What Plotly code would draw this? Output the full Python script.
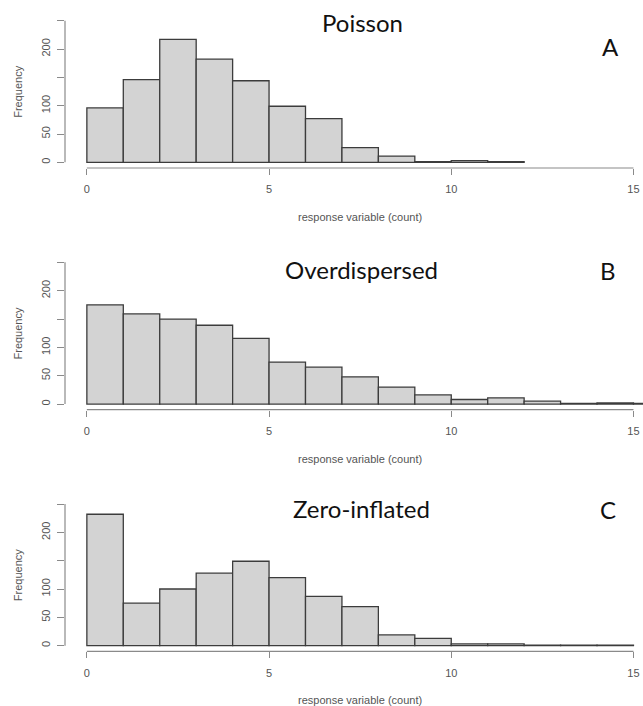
import plotly.graph_objects as go

# Histogram bin edges (unit-width bins on the count scale)
bin_edges = list(range(0, 17))

# Frequencies per bin for the three simulated response variables
poisson_counts = [96, 146, 217, 182, 144, 99, 77, 26, 11, 1, 3, 1]
overdispersed_counts = [175, 159, 150, 139, 116, 74, 65, 48, 30, 16, 8, 11, 5, 1, 2, 1]
zero_inflated_counts = [232, 75, 100, 128, 149, 120, 87, 69, 19, 13, 3, 3, 1, 1, 1]

panel_titles = ["Poisson", "Overdispersed", "Zero-inflated"]
panel_letters = ["A", "B", "C"]

x_tick_values = [0, 5, 10, 15]
y_tick_values = [0, 50, 100, 150, 200, 250]
y_tick_labels = ["0", "50", "100", "", "200", ""]

x_label = "response variable (count)"
y_label = "Frequency"

W, H = 643, 706

# pixel layout of each panel (top / bottom of the plotting region)
panel_px = [(15.0, 168.0), (256.7, 409.7), (498.4, 651.3)]
title_px = [(362.7, 22.8), (361.5, 269.0), (361.3, 508.3)]
letter_px = [(610.8, 46.3), (607.8, 270.0), (608.0, 509.0)]
left_px = 65.0
unit_px = 36.44

x_range = [-0.6, -0.6 + (W - left_px) / unit_px]
y_range = [-10, 260]

tick_font = dict(family="Liberation Sans, Arial, sans-serif", size=11, color="#555555")
title_font = dict(family="Lato, sans-serif", size=24, color="#111111")
axis_color = "#8a8a8a"

fig = go.Figure()
layout = dict(
    width=W, height=H,
    margin=dict(l=0, r=0, t=0, b=0),
    paper_bgcolor="white", plot_bgcolor="white",
    showlegend=False,
    shapes=[], annotations=[],
)

all_counts = [poisson_counts, overdispersed_counts, zero_inflated_counts]
for i, counts in enumerate(all_counts):
    n = i + 1
    xa = "x" if n == 1 else f"x{n}"
    ya = "y" if n == 1 else f"y{n}"
    xkey = "xaxis" if n == 1 else f"xaxis{n}"
    ykey = "yaxis" if n == 1 else f"yaxis{n}"

    centers = [(bin_edges[k] + bin_edges[k + 1]) / 2 for k in range(len(counts))]
    fig.add_trace(go.Bar(
        x=centers, y=counts, width=1.0,
        marker=dict(color="#d3d3d3", line=dict(color="#3c3c3c", width=1.3)),
        xaxis=xa, yaxis=ya, hoverinfo="x+y",
    ))

    top, bottom = panel_px[i]
    y_dom = [1 - bottom / H, 1 - top / H]
    x_dom = [left_px / W, 1.0]

    layout[xkey] = dict(
        domain=x_dom, range=x_range, anchor=ya,
        tickvals=x_tick_values, ticks="outside", ticklen=6, tickwidth=1,
        tickcolor=axis_color, showline=False, showgrid=False, zeroline=False,
        tickfont=tick_font, ticklabelstandoff=5, fixedrange=True,
    )
    layout[ykey] = dict(
        domain=y_dom, range=y_range, anchor=xa,
        tickvals=y_tick_values, ticktext=y_tick_labels, tickangle=-90,
        ticks="outside", ticklen=7, tickwidth=1, tickcolor=axis_color,
        showline=False, showgrid=False, zeroline=False,
        tickfont=tick_font, ticklabelstandoff=3, fixedrange=True,
    )

    # axis lines spanning only the tick range
    layout["shapes"].append(dict(
        type="line", xref=xa, yref="paper",
        x0=x_tick_values[0], x1=x_tick_values[-1], y0=y_dom[0], y1=y_dom[0],
        line=dict(color=axis_color, width=1.2),
    ))
    layout["shapes"].append(dict(
        type="line", xref="paper", yref=ya,
        x0=x_dom[0], x1=x_dom[0], y0=y_tick_values[0], y1=y_tick_values[-1],
        line=dict(color=axis_color, width=1.2),
    ))

    # axis titles
    layout["annotations"].append(dict(
        text=x_label, xref=xa, x=7.5, yref=f"{ya} domain", y=0, yshift=-49,
        xanchor="center", yanchor="middle", showarrow=False, font=tick_font,
    ))
    layout["annotations"].append(dict(
        text=y_label, xref="paper", x=18.3 / W, yref=f"{ya} domain", y=0.5,
        textangle=-90, xanchor="center", yanchor="middle", showarrow=False,
        font=tick_font,
    ))

    # panel title and letter
    tx, ty = title_px[i]
    layout["annotations"].append(dict(
        text=panel_titles[i], xref="paper", yref="paper", x=tx / W, y=1 - ty / H,
        xanchor="center", yanchor="middle", showarrow=False, font=title_font,
    ))
    lx, ly = letter_px[i]
    layout["annotations"].append(dict(
        text=panel_letters[i], xref="paper", yref="paper", x=lx / W, y=1 - ly / H,
        xanchor="center", yanchor="middle", showarrow=False, font=title_font,
    ))

fig.update_layout(**layout)
fig.write_html("out.html")
